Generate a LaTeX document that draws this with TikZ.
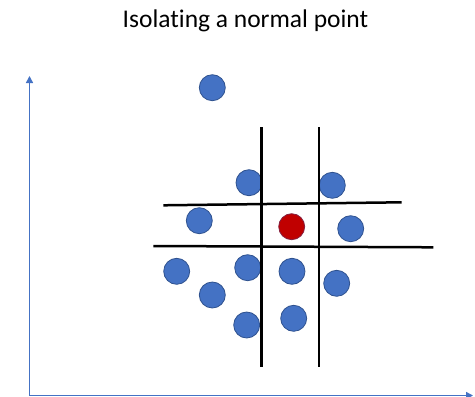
\documentclass[tikz,border=0pt]{standalone}
\usepackage{fontspec}
\setmainfont[Ligatures={NoCommon,NoContextual}]{Carlito}
\usetikzlibrary{arrows.meta}
\definecolor{ptblue}{HTML}{4472C4}
\definecolor{ptedge}{HTML}{2F528F}
\definecolor{ptred}{HTML}{C00000}
\definecolor{rededge}{HTML}{842040}

\begin{document}
\begin{tikzpicture}[
			x=1pt,y=-1pt,
			point/.style={circle,draw=ptedge,fill=ptblue,line width=0.8pt,minimum size=26pt,inner sep=0pt},
			target/.style={point,draw=rededge,fill=ptred},
			cut/.style={line width=2.5pt,black},
			axis/.style={-{Triangle[length=7pt,width=7pt]},draw=ptblue,line width=1.5pt}
			]
			\useasboundingbox (0,0) rectangle (475,397);
			\node[font=\fontsize{25.5}{30}\selectfont,anchor=base,inner sep=0pt] (title) at (245.5,27.3) {Isolating a normal point};
			% axes
			\coordinate (origin) at (29.5,395.5);
			\coordinate (ytip) at (29.5,76);
			\coordinate (xtip) at (473,395.5);
			\draw[axis] (origin)--(ytip);
			\draw[axis] (origin)--(xtip);
			% points
			\foreach \name/\px/\py in {p1/212.3/87.7, p2/249/182.7, p3/332.3/185.3, p4/199.3/220.7,
				p5/350.7/228.7, p6/176.7/271.3, p7/247.7/267.7, p8/292/271.3, p9/336.7/283.3,
				p10/212.3/295, p11/246.7/325, p12/293.7/318.3}
				\node[point] (\name) at (\px,\py) {};
			\node[target] (normal) at (291.7,226.7) {};
			% cuts
			\coordinate (v1top) at (261.7,127);
			\coordinate (v1bot) at (261.7,366.5);
			\coordinate (v2top) at (319,127);
			\coordinate (v2bot) at (319,366.5);
			\coordinate (h1left) at (163.3,205.3);
			\coordinate (h1right) at (401.7,202.3);
			\coordinate (h2left) at (153.3,246);
			\coordinate (h2right) at (433.3,247.3);
			\draw[cut] (v1top)--(v1bot);
			\draw[cut] (v2top)--(v2bot);
			\draw[cut] (h1left)--(h1right);
			\draw[cut] (h2left)--(h2right);
		\end{tikzpicture}
\end{document}
